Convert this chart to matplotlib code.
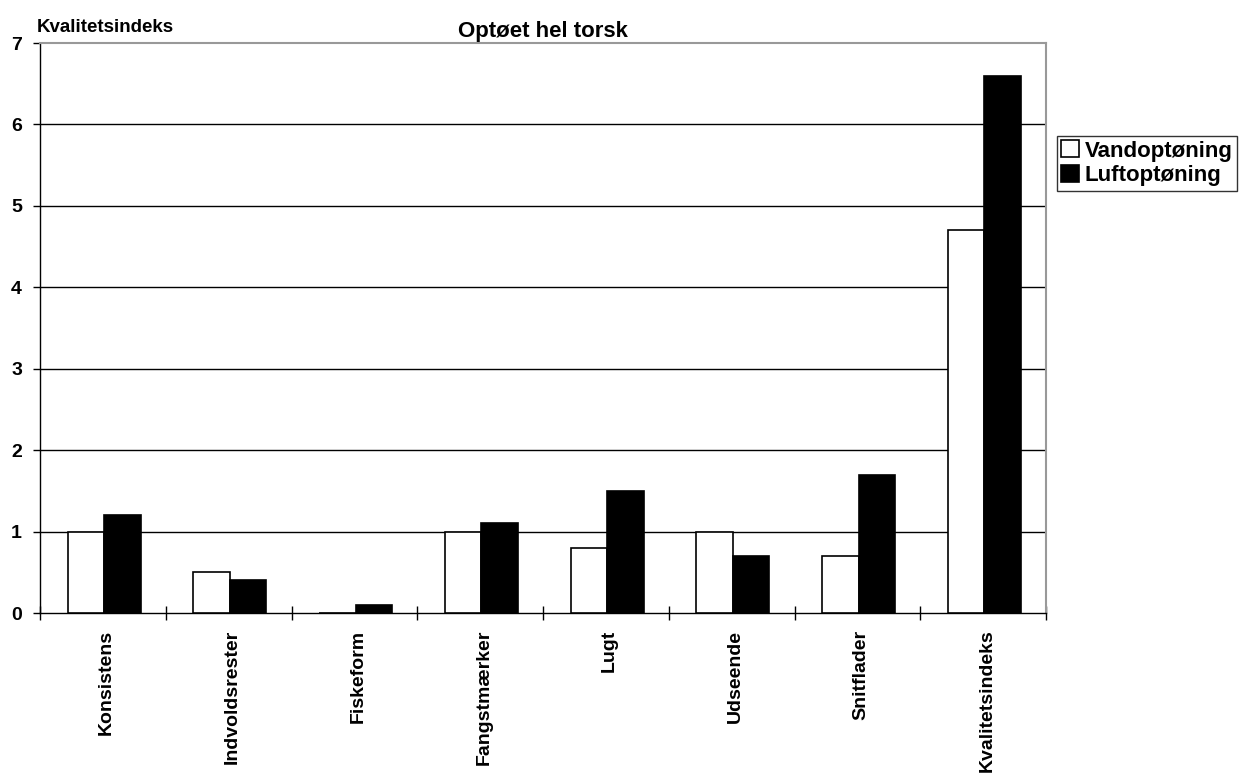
import numpy as np
import matplotlib.pyplot as plt

plt.rcParams['font.family'] = ['Liberation Sans', 'DejaVu Sans']
plt.rcParams['font.weight'] = 'bold'

kategorier = ['Konsistens', 'Indvoldsrester', 'Fiskeform', 'Fangstmærker',
              'Lugt', 'Udseende', 'Snitflader', 'Kvalitetsindeks']
vand = [1.0, 0.5, 0.0, 1.0, 0.8, 1.0, 0.7, 4.7]
luft = [1.2, 0.4, 0.1, 1.1, 1.5, 0.7, 1.7, 6.6]

fig = plt.figure(figsize=(12.59, 7.81), dpi=100)
ax = fig.add_axes([40/1259, 1 - 613/781, (1046-40)/1259, (613-43)/781])

x = np.arange(len(kategorier))
w = 0.29
ax.bar(x - w/2 + 0.01, vand, w, color='white', edgecolor='black', linewidth=1.2,
       label='Vandoptøning', zorder=3)
ax.bar(x + w/2 + 0.01, luft, w, color='black', edgecolor='black', linewidth=1.2,
       label='Luftoptøning', zorder=3)

ax.set_xlim(-0.5, len(kategorier) - 0.5)
ax.set_ylim(0, 7)
ax.set_yticks(range(8))
ax.set_yticklabels([str(v) for v in range(8)], fontsize=14, fontweight='bold')
for v in range(1, 7):
    ax.axhline(v, color='black', linewidth=1, zorder=1)

# category ticks sit on the group boundaries
ax.set_xticks(np.arange(-0.5, len(kategorier)), minor=False)
ax.set_xticklabels([])
ax.set_xticks(x + 0.03, minor=True)
ax.set_xticklabels(kategorier, minor=True, rotation=90, fontsize=14,
                   fontweight='bold', va='top')
ax.tick_params(axis='x', which='minor', length=0, pad=12)
ax.tick_params(axis='x', which='major', direction='inout', length=10, width=1)
ax.tick_params(axis='y', direction='out', length=5, width=1, pad=8)

for side in ['top', 'right']:
    ax.spines[side].set_color('#999999')
    ax.spines[side].set_linewidth(1.5)
for side in ['left', 'bottom']:
    ax.spines[side].set_color('black')
    ax.spines[side].set_linewidth(1)

fig.text(37/1259, 1 - 27/781, 'Kvalitetsindeks', fontsize=13.5, fontweight='bold',
         va='center', ha='left')
fig.text(543/1259, 1 - 31/781, 'Optøet hel torsk', fontsize=16, fontweight='bold',
         va='center', ha='center')

leg = fig.legend(loc='upper left', bbox_to_anchor=(1057/1259, 1 - 136/781),
                 fontsize=16, frameon=True, fancybox=False, edgecolor='black',
                 handlelength=0.8, handleheight=0.8, handletextpad=0.25,
                 borderpad=0.2, labelspacing=0.15, borderaxespad=0)
leg.get_frame().set_linewidth(1)
for t in leg.get_texts():
    t.set_fontweight('bold')

fig.savefig('out.png', dpi=100)
